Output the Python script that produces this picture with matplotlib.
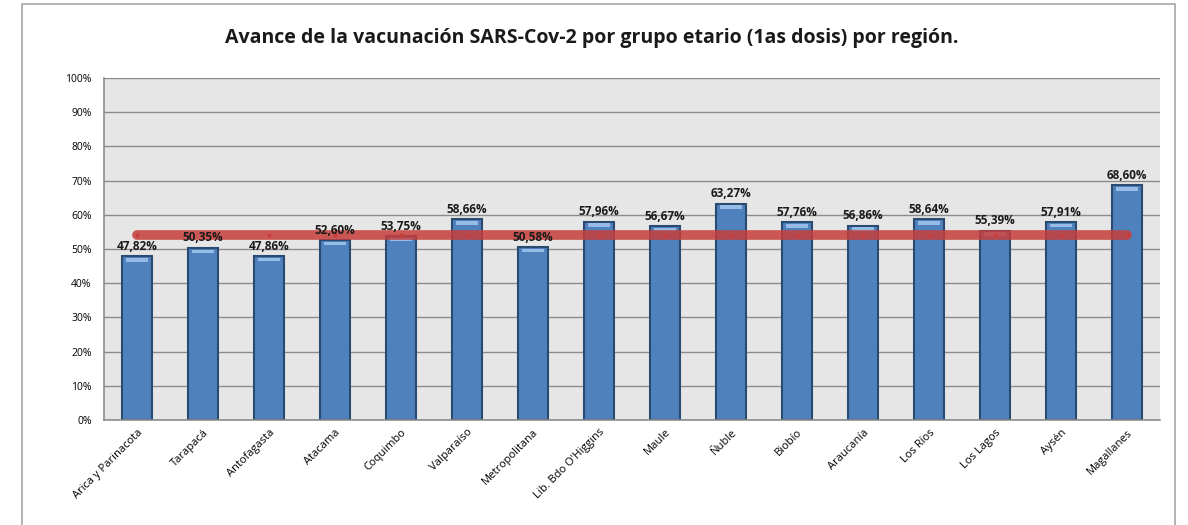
import matplotlib
matplotlib.use('Agg')
import matplotlib.pyplot as plt
import numpy as np
from matplotlib.patches import Rectangle

regions = ['Arica y Parinacota', 'Tarapacá', 'Antofagasta', 'Atacama', 'Coquimbo',
           'Valparaíso', 'Metropolitana', "Lib. Bdo O'Higgins", 'Maule', 'Ñuble',
           'Biobío', 'Araucanía', 'Los Ríos', 'Los Lagos', 'Aysén', 'Magallanes']
avance = [47.82, 50.35, 47.86, 52.60, 53.75, 58.66, 50.58, 57.96, 56.67, 63.27,
          57.76, 56.86, 58.64, 55.39, 57.91, 68.60]
promedio = [54.0] * len(regions)
yticks = list(range(0, 101, 10))

plt.rcParams['font.family'] = ['Open Sans', 'DejaVu Sans']

fig = plt.figure(figsize=(11.88, 5.25), dpi=100, facecolor='white')
fig.patches.append(Rectangle((22 / 1188, -0.01), 1153 / 1188, 1 - 4 / 525 + 0.01,
                             transform=fig.transFigure, fill=False,
                             edgecolor='#A6A6A6', linewidth=1.2))
ax = fig.add_axes([104 / 1188, 105 / 525, 1056 / 1188, 342 / 525])
ax.set_facecolor('#E6E6E6')

x = np.arange(len(regions))
ax.bar(x, avance, width=0.45, color='#4F81BD', edgecolor='#2A4A70', linewidth=1.5, zorder=2)
# brillo superior de las barras
ax.bar(x, [1.0] * len(x), bottom=[v - 1.5 for v in avance], width=0.32,
       color='#95BBE6', linewidth=0, zorder=3)

ax.plot(x, promedio, color='#C73E3C', linewidth=7, alpha=0.85, solid_capstyle='round',
        marker='o', markersize=2, zorder=4)

for xi, v in zip(x, avance):
    ax.text(xi, v + 1.0, f'{v:.2f}%'.replace('.', ','), ha='center', va='bottom',
            fontsize=8.5, fontweight='bold', color='#1A1A1A', zorder=5)

ax.set_xlim(-0.5, len(regions) - 0.5)
ax.set_ylim(0, 100)
ax.set_yticks(yticks)
ax.set_yticklabels([f'{t}%' for t in yticks], fontsize=7.5)
ax.yaxis.grid(True, color='#8C8C8C', linewidth=1.0, zorder=0)
ax.set_axisbelow(True)
ax.tick_params(axis='y', length=0, pad=9)
ax.tick_params(axis='x', length=0, pad=5)
ax.set_xticks(x)
ax.set_xticklabels(regions, rotation=45, ha='right', rotation_mode='anchor', fontsize=8)
for s in ['top', 'right']:
    ax.spines[s].set_visible(False)
for s in ['left', 'bottom']:
    ax.spines[s].set_color('#8C8C8C')
    ax.spines[s].set_linewidth(1.2)

fig.text(592 / 1188, 1 - 38 / 525, 'Avance de la vacunación SARS-Cov-2 por grupo etario (1as dosis) por región.',
         ha='center', va='center', fontsize=14, fontweight='bold', color='#1A1A1A')

fig.savefig('out.png', dpi=100, facecolor='white')
